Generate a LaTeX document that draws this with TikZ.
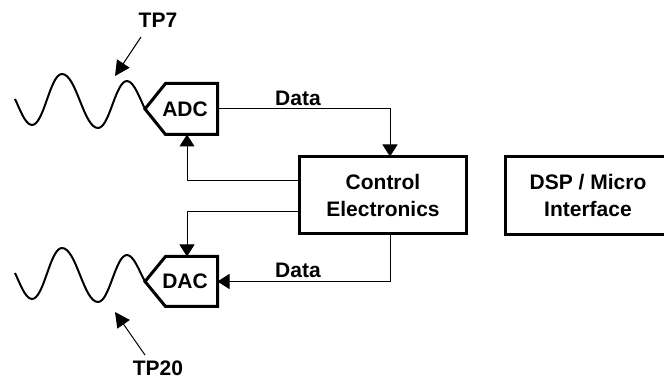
\documentclass[tikz,border=0pt]{standalone}
\usepackage{fontspec}
\setmainfont{Liberation Sans}
\usetikzlibrary{arrows.meta,calc}
\begin{document}
\begin{tikzpicture}[x=1pt,y=-1pt,
  lbl/.style={font=\fontsize{21}{27}\selectfont\bfseries, inner sep=0pt, align=center},
  blk/.style={draw, line width=3pt, inner sep=0pt, outer sep=0pt, align=center,
              font=\fontsize{21}{27}\selectfont\bfseries},
  conv/.style={inner sep=0pt, outer sep=0pt, minimum width=52pt},
  outline/.style={line width=3pt, line join=miter},
  wave/.style={line width=2pt, line join=round},
  conn/.style={line width=1pt, -{Triangle[length=12pt,width=15pt]}},
  tparrow/.style={line width=1pt, -{Triangle[length=15pt,width=15pt]}}]
\useasboundingbox[fill=white] (0,0) rectangle (664,379);

% converters
\node[conv, minimum height=51pt] (adc) at (191.5,109) {};
\node[conv, minimum height=50pt] (dac) at (191.5,281.5) {};
\coordinate (adctip) at ($(adc.west)+(-20.5pt,0)$);
\coordinate (dactip) at ($(dac.west)+(-20.5pt,0)$);
\draw[outline] (adc.north east) -- (adc.south east) -- (adc.south west) -- (adctip) -- (adc.north west) -- cycle;
\draw[outline] (dac.north east) -- (dac.south east) -- (dac.south west) -- (dactip) -- (dac.north west) -- cycle;
\node[lbl] (adcl) at (185,109) {ADC};
\node[lbl] (dacl) at (185,281.5) {DAC};

% blocks
\node[blk, minimum width=167pt, minimum height=77pt] (ctrl) at (383,195) {Control\\Electronics};
\node[blk, minimum width=165pt, minimum height=78pt] (dsp) at (588,195.5) {DSP / Micro\\Interface};

% waves
\draw[wave] (15,99) .. controls (19,107) and (25,125) .. (32,125)
  .. controls (44,125) and (50,74) .. (62,74)
  .. controls (76.4,74) and (83.6,128) .. (98,128)
  .. controls (109.6,128) and (115.4,81) .. (127,81)
  .. controls (134,81) and (140,99) .. (adctip);
\draw[wave] (15,273) .. controls (19,281) and (25,299) .. (32,299)
  .. controls (44,299) and (50,248) .. (62,248)
  .. controls (76.4,248) and (83.6,302) .. (98,302)
  .. controls (109.6,302) and (115.4,255) .. (127,255)
  .. controls (134,255) and (140,273) .. (dactip);

% connectors
\draw[conn] (adc.east) -| ([xshift=7pt]ctrl.north);
\draw[conn] ([yshift=14pt]ctrl.west) -| ([xshift=-4.5pt]adc.south);
\draw[conn] ([yshift=-17pt]ctrl.west) -| ([xshift=-4.5pt]dac.north);
\draw[conn] ([xshift=7pt]ctrl.south) |- (dac.east);
\node[lbl] (data1) at (298,98) {Data};
\node[lbl] (data2) at (298,270) {Data};

% test points
\node[lbl] (tp7) at (158,20) {TP7};
\node[lbl] (tp20) at (158,368.5) {TP20};
\coordinate (tp7a) at (141,37);
\coordinate (tp7b) at (115,76);
\coordinate (tp20a) at (145,355);
\coordinate (tp20b) at (115,312);
\draw[tparrow] (tp7a) -- (tp7b);
\draw[tparrow] (tp20a) -- (tp20b);
\end{tikzpicture}
\end{document}
